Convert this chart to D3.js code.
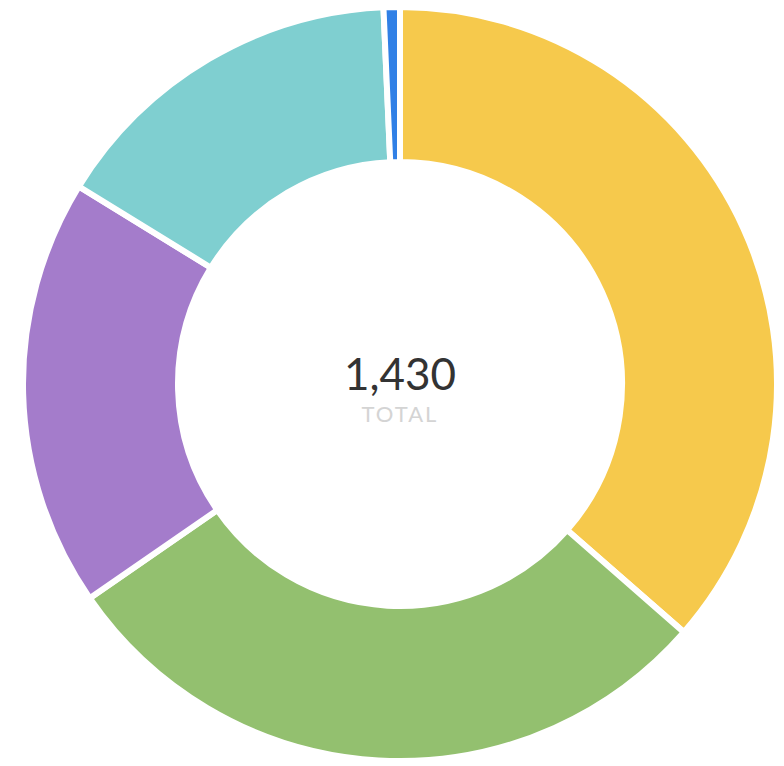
<!DOCTYPE html>
<html>
<head>
<meta charset="utf-8">
<script src="https://cdn.jsdelivr.net/npm/d3@7"></script>
<style>
  body { margin: 0; background: #fff; }
  svg { display: block; }
</style>
</head>
<body>
<svg id="chart" width="784" height="766"></svg>
<script>
// Slice data
const categories = ["A", "B", "C", "D", "E"];
const values = [521, 414, 263, 222, 10];
const colors = ["#f6c94c", "#93c06f", "#a47ccb", "#7fcfd0", "#3080e6"];
const totalLabel = "TOTAL";

const width = 784, height = 766;
const cx = 400, cy = 384;
const outerR = 377, innerR = 222;

const data = categories.map((c, i) => ({ name: c, value: values[i] }));

const svg = d3.select("#chart");
const g = svg.append("g")
    .attr("transform", `translate(${cx},${cy})`);

// Pie layout, largest first, starting at 12 o'clock
const pie = d3.pie()
    .value(d => d.value)
    .sort((a, b) => b.value - a.value);

const arc = d3.arc()
    .innerRadius(innerR)
    .outerRadius(outerR);

const color = d3.scaleOrdinal()
    .domain(categories)
    .range(colors);

g.selectAll("path")
    .data(pie(data))
    .join("path")
    .attr("d", arc)
    .attr("fill", d => color(d.data.name))
    .attr("stroke", "#fff")
    .attr("stroke-width", 6);

// Centre label
const total = d3.sum(values);
g.append("text")
    .attr("text-anchor", "middle")
    .attr("y", 6)
    .attr("font-family", "Lato, sans-serif")
    .attr("font-size", 44)
    .attr("fill", "#333")
    .text(d3.format(",")(total));

g.append("text")
    .attr("text-anchor", "middle")
    .attr("y", 38)
    .attr("font-family", "Lato, sans-serif")
    .attr("font-size", 22)
    .attr("letter-spacing", 2)
    .attr("fill", "#d4d4d4")
    .text(totalLabel);
</script>
</body>
</html>
